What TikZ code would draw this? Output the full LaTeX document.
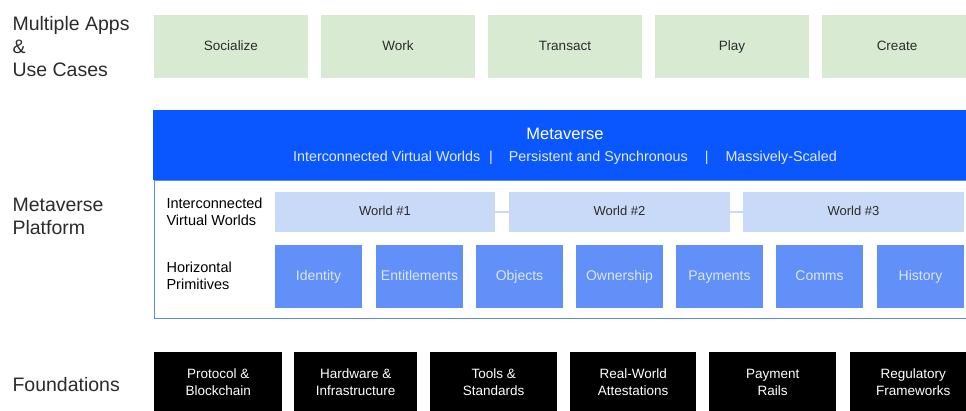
\documentclass[tikz,border=0pt]{standalone}
\usepackage{fontspec}
\setmainfont{Liberation Sans}
\definecolor{appgreen}{HTML}{D9EAD3}
\definecolor{metablue}{HTML}{0B57FF}
\definecolor{worldblue}{HTML}{C9DAF8}
\definecolor{primblue}{HTML}{6090F8}
\definecolor{primtext}{HTML}{DCE6FF}
\definecolor{framblue}{HTML}{5A8DEE}
\definecolor{darktext}{HTML}{2B2B2B}
\begin{document}
\begin{tikzpicture}[x=1pt,y=-1pt,
  lbl/.style={anchor=west,align=left,text=darktext,font=\fontsize{19.5}{23}\selectfont},
  rowlbl/.style={anchor=west,align=left,text=black,font=\fontsize{14.5}{17}\selectfont},
  app/.style={fill=appgreen,draw=none,minimum width=154pt,minimum height=63pt,inner sep=0pt,text=darktext,text height=10pt,text depth=3pt,font=\fontsize{13.5}{16}\selectfont},
  world/.style={fill=worldblue,draw=none,minimum height=40pt,inner sep=0pt,text=darktext,text height=10pt,text depth=3pt,font=\fontsize{13}{16}\selectfont},
  prim/.style={fill=primblue,draw=none,minimum width=87pt,minimum height=63pt,inner sep=0pt,text=primtext,text height=10pt,text depth=3pt,font=\fontsize{14}{16}\selectfont},
  found/.style={fill=black,draw=none,minimum height=60pt,inner sep=0pt,text=white,align=center,font=\fontsize{13.5}{17}\selectfont}
]
\useasboundingbox (0,0) rectangle (966,410);
% left labels
\node[lbl] (lapps) at (9,47) {Multiple Apps\\\&\\Use Cases};
\node[lbl] (lplat) at (9,216) {Metaverse\\Platform};
\node[lbl] (lfound) at (9,385) {Foundations};
% apps
\node[app] (soc) at (231,46.5) {Socialize};
\node[app] (work) at (398,46.5) {Work};
\node[app] (trans) at (565,46.5) {Transact};
\node[app] (play) at (732,46.5) {Play};
\node[app,minimum width=150pt] (create) at (897,46.5) {Create};
% platform
\node[fill=metablue,draw=none,minimum width=813pt,minimum height=70pt,inner sep=0pt,anchor=north west] (meta) at (153,110) {};
\node[text=white,font=\fontsize{16.5}{19}\selectfont] (mtitle) at (565,134) {Metaverse};
\node[text=white!88!metablue,font=\fontsize{14.3}{16}\selectfont] (msub) at (565,158) {Interconnected Virtual Worlds\hspace{9pt}|\hspace{16pt}Persistent and Synchronous\hspace{17pt}|\hspace{17pt}Massively-Scaled};
\node[draw=framblue,line width=1pt,fill=white,minimum width=812pt,minimum height=138pt,inner sep=0pt,anchor=north west] (frame) at (153.5,180) {};
\node[rowlbl] (lworld) at (163,212) {Interconnected\\Virtual Worlds};
\node[rowlbl] (lprim) at (163,276) {Horizontal\\Primitives};
% worlds
\node[world,minimum width=220pt] (w1) at (385,211.5) {World \#1};
\node[world,minimum width=221pt] (w2) at (619.5,211.5) {World \#2};
\node[world,minimum width=221pt] (w3) at (853.5,211.5) {World \#3};
\draw[worldblue,line width=2pt] (w1.east) -- (w2.west);
\draw[worldblue,line width=2pt] (w2.east) -- (w3.west);
% primitives
\node[prim] (p1) at (318.5,276.5) {Identity};
\node[prim] (p2) at (419.5,276.5) {Entitlements};
\node[prim] (p3) at (519.5,276.5) {Objects};
\node[prim] (p4) at (619.5,276.5) {Ownership};
\node[prim] (p5) at (719.5,276.5) {Payments};
\node[prim] (p6) at (819.5,276.5) {Comms};
\node[prim] (p7) at (920.5,276.5) {History};
% foundations
\node[found,minimum width=128pt,anchor=north west] (f1) at (154,352) {Protocol \&\\Blockchain};
\node[found,minimum width=123pt,anchor=north west] (f2) at (294,352) {Hardware \&\\Infrastructure};
\node[found,minimum width=127pt,anchor=north west] (f3) at (430,352) {Tools \&\\Standards};
\node[found,minimum width=126pt,anchor=north west] (f4) at (570,352) {Real-World\\Attestations};
\node[found,minimum width=127pt,anchor=north west] (f5) at (709,352) {Payment\\Rails};
\node[found,minimum width=126pt,anchor=north west] (f6) at (850,352) {Regulatory\\Frameworks};
\end{tikzpicture}
\end{document}
